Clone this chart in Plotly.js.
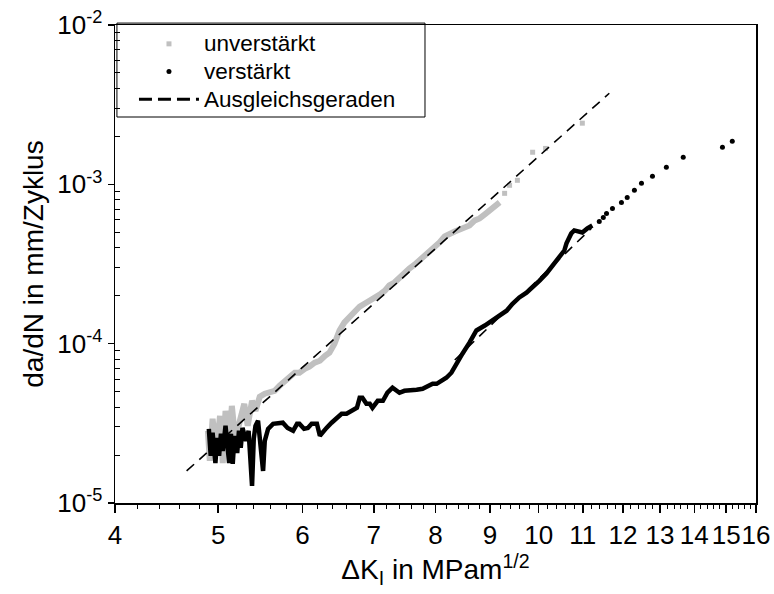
<!DOCTYPE html>
<html><head><meta charset="utf-8">
<script src="https://cdn.plot.ly/plotly-3.0.1.min.js"></script>
<style>html,body{margin:0;padding:0;background:#fff}#chart{width:774px;height:594px}</style>
</head><body><div id="chart"></div>
<script>
// unverstärkt (grey), dense part
const unvX=[4.89,4.91,4.94,4.98,5.02,5.05,5.08,5.12,5.15,5.19,5.24,5.29,5.33,5.38,5.42,5.47,5.53,5.59,5.65,5.71,5.77,5.84,5.90,5.96,6.03,6.09,6.16,6.23,6.30,6.36,6.43,6.50,6.57,6.65,6.72,6.79,6.86,6.94,7.01,7.09,7.17,7.24,7.32,7.40,7.48,7.56,7.65,7.73,7.81,7.90,7.98,8.07,8.16,8.25,8.34,8.43,8.52,8.61,8.71,8.80,8.90,8.99,9.09,9.19];
const unvY=[2.84e-5,1.84e-5,3.38e-5,2.12e-5,3.52e-5,1.78e-5,3.79e-5,2.28e-5,4.07e-5,2.45e-5,3.28e-5,4.19e-5,3.05e-5,4.38e-5,3.79e-5,4.64e-5,4.85e-5,4.92e-5,5.06e-5,5.44e-5,5.85e-5,6.20e-5,6.57e-5,6.57e-5,6.96e-5,7.17e-5,7.60e-5,7.82e-5,8.40e-5,8.78e-5,1.00e-4,1.21e-4,1.36e-4,1.48e-4,1.59e-4,1.71e-4,1.78e-4,1.86e-4,1.92e-4,2.03e-4,2.15e-4,2.32e-4,2.42e-4,2.60e-4,2.80e-4,2.96e-4,3.14e-4,3.33e-4,3.58e-4,3.84e-4,4.07e-4,4.32e-4,4.71e-4,4.92e-4,5.06e-4,5.21e-4,5.36e-4,5.52e-4,5.94e-4,6.11e-4,6.48e-4,6.86e-4,7.17e-4,7.70e-4];
// unverstärkt, sparse tail
const unvTailX=[9.29,9.39,9.55,9.87,10.15,10.99];
const unvTailY=[8.78e-4,9.86e-4,1.06e-3,1.59e-3,1.68e-3,2.42e-3];
// verstärkt (black), dense part
const verX=[4.90,4.92,4.94,4.97,4.99,5.01,5.03,5.05,5.08,5.12,5.14,5.16,5.18,5.21,5.23,5.25,5.27,5.31,5.34,5.38,5.40,5.42,5.45,5.48,5.51,5.53,5.57,5.63,5.69,5.75,5.81,5.88,5.93,5.96,6.02,6.07,6.12,6.19,6.23,6.28,6.32,6.39,6.46,6.53,6.60,6.67,6.75,6.79,6.83,6.89,6.94,6.98,7.06,7.14,7.21,7.29,7.36,7.40,7.48,7.56,7.68,7.78,7.86,7.95,8.02,8.12,8.19,8.28,8.37,8.48,8.61,8.74,8.90,9.05,9.19,9.33,9.45,9.59,9.74,9.87,10.02,10.17,10.30,10.46,10.57,10.62,10.73,10.80,10.92,10.99,11.11,11.23];
const verY=[2.92e-5,1.98e-5,2.76e-5,1.78e-5,2.56e-5,1.98e-5,2.72e-5,2.12e-5,3.05e-5,1.78e-5,2.72e-5,1.76e-5,2.64e-5,2.06e-5,2.84e-5,2.22e-5,2.96e-5,2.45e-5,2.84e-5,1.28e-5,2.53e-5,3.05e-5,3.28e-5,2.12e-5,1.59e-5,2.45e-5,2.92e-5,3.14e-5,3.14e-5,3.19e-5,2.96e-5,2.84e-5,3.14e-5,3.14e-5,2.92e-5,2.96e-5,3.14e-5,3.14e-5,2.64e-5,2.84e-5,2.96e-5,3.19e-5,3.42e-5,3.63e-5,3.63e-5,3.79e-5,3.96e-5,4.57e-5,4.57e-5,4.19e-5,4.19e-5,3.96e-5,4.38e-5,4.38e-5,4.92e-5,5.29e-5,5.06e-5,4.92e-5,5.06e-5,5.06e-5,5.14e-5,5.21e-5,5.44e-5,5.60e-5,5.60e-5,5.85e-5,6.11e-5,6.57e-5,7.48e-5,8.65e-5,1.015e-4,1.21e-4,1.30e-4,1.40e-4,1.50e-4,1.61e-4,1.78e-4,1.95e-4,2.09e-4,2.25e-4,2.49e-4,2.76e-4,3.09e-4,3.48e-4,3.84e-4,4.26e-4,4.92e-4,5.14e-4,5.06e-4,4.99e-4,5.29e-4,5.52e-4];
// verstärkt, sparse tail
const verTailX=[11.40,11.50,11.58,11.73,11.96,12.11,12.30,12.49,12.79,13.18,13.67,14.88,15.20];
const verTailY=[5.85e-4,6.20e-4,6.57e-4,7.06e-4,7.70e-4,8.28e-4,9.17e-4,1.015e-3,1.123e-3,1.279e-3,1.478e-3,1.709e-3,1.864e-3];
// Ausgleichsgeraden (fit lines)
const fitUnvX=[4.67,11.65];
const fitUnvY=[1.59e-5,3.73e-3];
const fitVerX=[8.34,11.21];
const fitVerY=[7.90e-5,5.30e-4];
// ticks and labels
const xTickVals=[4,5,6,7,8,9,10,11,12,13,14,15,16];
const xTickText=['4','5','6','7','8','9','10','11','12','13','14','15','16'];
const yTickVals=[1e-5,1e-4,1e-3,1e-2];
const yTickText=['10<sup>-5</sup>','10<sup>-4</sup>','10<sup>-3</sup>','10<sup>-2</sup>'];
const seriesNames=['unverstärkt','verstärkt','Ausgleichsgeraden'];

const xMinor=[];
for(let i=0;i<=60;i++){const v=4+i*0.2; if(i%5!==0) xMinor.push(+v.toFixed(2));}
const yMinor=[];
for(let e=-5;e<-2;e++){for(let m=2;m<=9;m++) yMinor.push(m*Math.pow(10,e));}

const F='Arial, "Liberation Sans", sans-serif';
const GREY='#c0c0c0';
const lg=t=>'<span style="font-size:22.5px">'+t+'</span>';
const traces=[
 {x:[null],y:[null],name:lg(seriesNames[0]),mode:'markers',marker:{symbol:'square',size:5,color:GREY}},
 {x:[null],y:[null],name:lg(seriesNames[1]),mode:'markers',marker:{symbol:'circle',size:5,color:'#000'}},
 {x:[null],y:[null],name:lg(seriesNames[2]),mode:'lines',line:{color:'#000',width:3,dash:'13px,6px'}},
 {x:unvX,y:unvY,mode:'lines',line:{color:GREY,width:6},showlegend:false},
 {x:unvTailX,y:unvTailY,mode:'markers',marker:{symbol:'square',size:5,color:GREY},showlegend:false},
 {x:verX,y:verY,mode:'lines',line:{color:'#000',width:4.5},showlegend:false},
 {x:verTailX,y:verTailY,mode:'markers',marker:{symbol:'circle',size:5,color:'#000'},showlegend:false},
 {x:fitUnvX,y:fitUnvY,mode:'lines',line:{color:'#000',width:1.6,dash:'10px,7px'},showlegend:false},
 {x:fitVerX,y:fitVerY,mode:'lines',line:{color:'#000',width:1.6,dash:'10px,7px'},showlegend:false}
];
const layout={
 width:774,height:594,
 margin:{l:115,r:18,t:25,b:91},
 paper_bgcolor:'#fff',plot_bgcolor:'#fff',
 font:{family:F,color:'#000',size:26},
 showlegend:true,
 legend:{x:0.0296,y:1,xanchor:'left',yanchor:'top',borderwidth:0,bgcolor:'rgba(0,0,0,0)',
   font:{family:F,size:19,color:'#000'},itemwidth:60,tracegroupgap:0},
 shapes:[{type:'rect',xref:'paper',yref:'paper',x0:0.003,x1:0.4836,y0:0.8075,y1:1.004,line:{color:'#000',width:1},layer:'above'}],
 xaxis:{type:'log',range:[Math.log10(4),Math.log10(16)],tickmode:'array',tickvals:xTickVals,ticktext:xTickText,tickangle:0,
   ticks:'outside',ticklen:8,tickwidth:1.5,tickcolor:'#000',showline:true,linewidth:1.5,linecolor:'#000',mirror:true,
   showgrid:false,zeroline:false,tickfont:{family:F,size:26},
   minor:{tickmode:'array',tickvals:xMinor,ticks:'outside',ticklen:4,tickwidth:1,tickcolor:'#000',showgrid:false},
   title:{text:'ΔK<sub>I</sub> in MPam<sup>1/2</sup>',font:{family:F,size:28},standoff:4}},
 yaxis:{type:'log',range:[-5,-2],tickmode:'array',tickvals:yTickVals,ticktext:yTickText,
   ticks:'outside',ticklen:6,tickwidth:1.5,tickcolor:'#000',showline:true,linewidth:1.5,linecolor:'#000',mirror:true,
   showgrid:false,zeroline:false,tickfont:{family:F,size:26},
   minor:{tickmode:'array',tickvals:yMinor,ticks:'inside',ticklen:5,tickwidth:1,tickcolor:'#000',showgrid:false},
   title:{text:'da/dN in mm/Zyklus',font:{family:F,size:28},standoff:5}},
 yaxis2:{type:'log',range:[-5,-2],overlaying:'y',anchor:'x',side:'left',tickmode:'array',tickvals:yTickVals,
   ticks:'inside',ticklen:5,tickwidth:1.5,tickcolor:'#000',showticklabels:false,showline:false,showgrid:false,zeroline:false}
};
Plotly.newPlot('chart',traces,layout,{displayModeBar:false,staticPlot:true});
</script></body></html>
